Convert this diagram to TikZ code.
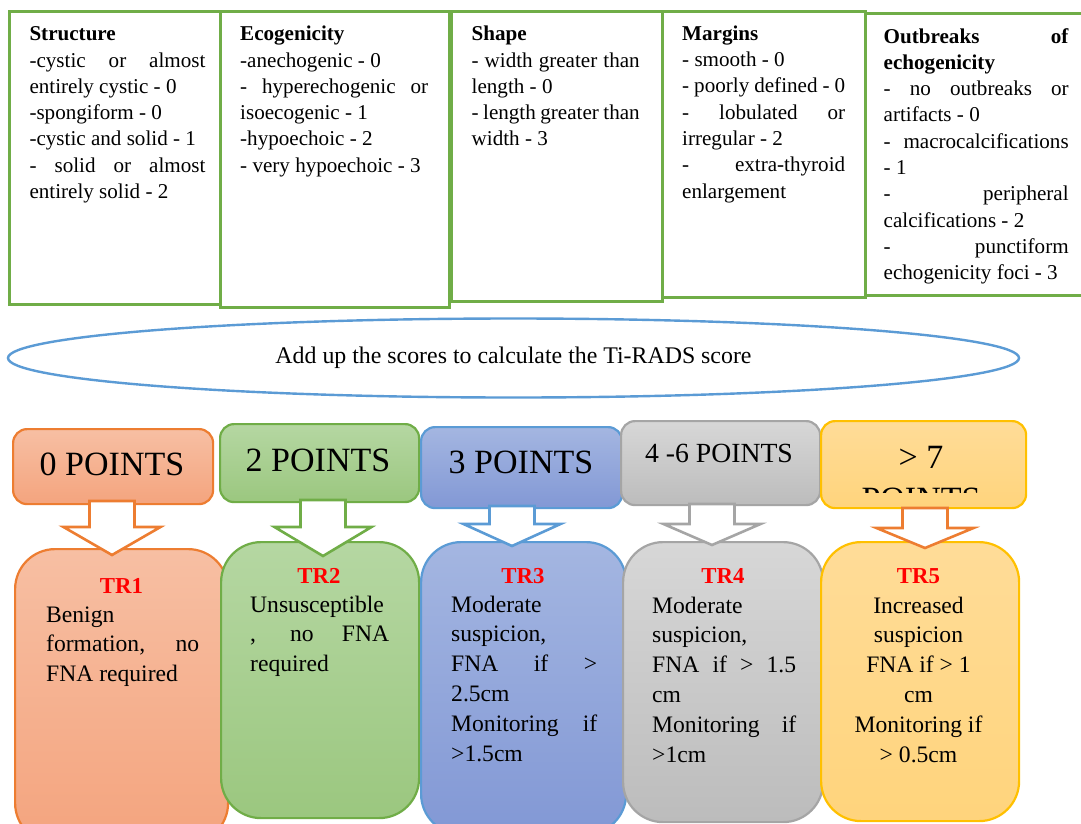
\documentclass[tikz,border=0pt]{standalone}
\usepackage{fontspec}
\setmainfont{Liberation Serif}
\usetikzlibrary{calc}
\hbadness=10000
\definecolor{grn}{HTML}{70AD47}
\definecolor{org}{HTML}{ED7D31}
\definecolor{blu}{HTML}{5B9BD5}
\definecolor{gry}{HTML}{A5A5A5}
\definecolor{yel}{HTML}{FFC000}
\definecolor{orgT}{HTML}{F7BFA3}
\definecolor{orgB}{HTML}{F4A47E}
\definecolor{grnT}{HTML}{B5D7A2}
\definecolor{grnB}{HTML}{9BC77F}
\definecolor{bluT}{HTML}{A4B6E1}
\definecolor{bluB}{HTML}{8298D5}
\definecolor{gryT}{HTML}{D7D7D7}
\definecolor{gryB}{HTML}{BCBCBC}
\definecolor{yelT}{HTML}{FFDC98}
\definecolor{yelB}{HTML}{FFD47C}
\definecolor{trred}{HTML}{FF0000}
\newcommand\topfont{\fontsize{21.1}{26.3}\selectfont}
\newcommand\bodyfont{\fontsize{23.6}{29.8}\selectfont}
\newcommand\jl[1]{\makebox[\linewidth][s]{#1}}
\newcommand\blockarrow[4]{%
  \draw[arrowbox,draw=#1] let \p1=(#2), \p2=(#3) in
    (\x1-22.5pt,\y1) -- (\x1-22.5pt,\y2+#4pt) -- (\x1-48.5pt,\y2+#4pt) -- (\p2)
    -- (\x1+48.5pt,\y2+#4pt) -- (\x1+22.5pt,\y2+#4pt) -- (\x1+22.5pt,\y1) -- cycle;}
\begin{document}
\begin{tikzpicture}[x=1pt,y=-1pt,
  tbox/.style={draw=grn,line width=2.6pt,fill=white,rectangle,inner sep=0pt,anchor=north west},
  pbox/.style={rectangle,rounded corners=14pt,line width=2.2pt,inner sep=0pt,anchor=north west},
  trbox/.style={rectangle,rounded corners=40pt,line width=2.2pt,inner sep=0pt,anchor=north west},
  arrowbox/.style={line width=2.6pt,fill=white,line join=miter},
  toptext/.style={anchor=base west,inner sep=0pt,font=\topfont},
  bodytext/.style={anchor=base west,inner sep=0pt,font=\bodyfont},
  trlabel/.style={anchor=base,inner sep=0pt,text=trred,font=\fontsize{22.8}{26}\selectfont\bfseries},
  ptlabel/.style={anchor=base,inner sep=0pt,font=\fontsize{34}{42}\selectfont},
]
\useasboundingbox (0,0) rectangle (1081,823);
\fill[white] (0,0) rectangle (1081,823);
\clip (0,0) rectangle (1081,823);

% ---- criteria boxes
\node[tbox,minimum width=214pt,minimum height=293pt] (s1) at (8,10) {};
\node[tbox,minimum width=229pt,minimum height=296pt] (s2) at (219,10) {};
\node[tbox,minimum width=211pt,minimum height=290pt] (s3) at (450,10) {};
\node[tbox,minimum width=203pt,minimum height=286pt] (s4) at (661,10) {};
\node[tbox,minimum width=230pt,minimum height=282pt] (s5) at (864,12) {};

\node[toptext] (s1t) at (29.3,40.7) {\parbox[t]{176pt}{\topfont
\textbf{Structure}\\
\jl{-cystic or almost}\\
entirely cystic - 0\\
-spongiform - 0\\
-cystic and solid - 1\\
\jl{- solid or almost}\\
entirely solid - 2}};
\node[toptext] (s2t) at (240,40.7) {\parbox[t]{188pt}{\topfont
\textbf{Ecogenicity}\\
-anechogenic - 0\\
\jl{- hyperechogenic or}\\
isoecogenic - 1\\
-hypoechoic - 2\\
- very hypoechoic - 3}};
\node[toptext] (s3t) at (471.5,40.7) {\parbox[t]{168pt}{\topfont
\textbf{Shape}\\
\jl{- width greater than}\\
length - 0\\
\jl{- length greater than}\\
width - 3}};
\node[toptext] (s4t) at (682,40.3) {\parbox[t]{163pt}{\topfont
\textbf{Margins}\\
- smooth - 0\\
\jl{- poorly defined - 0}\\
\jl{- lobulated or}\\
irregular - 2\\
\jl{- extra-thyroid}\\
enlargement}};
\node[toptext] (s5t) at (883.5,43) {\parbox[t]{185pt}{\topfont
\jl{\textbf{Outbreaks of}}\\
\textbf{echogenicity}\\
\jl{- no outbreaks or}\\
artifacts - 0\\
\jl{- macrocalcifications}\\
- 1\\
\jl{- peripheral}\\
calcifications - 2\\
\jl{- punctiform}\\
echogenicity foci - 3}};

% ---- ellipse
\draw[blu,line width=2.4pt,fill=white] (513.5,358) ellipse [x radius=505.5,y radius=39.5];
\node[anchor=base,inner sep=0pt,font=\fontsize{23.85}{28}\selectfont] (sum) at (513.5,363)
  {Add up the scores to calculate the Ti-RADS score};

% ---- point boxes
\node[pbox,draw=org,top color=orgT,bottom color=orgB,minimum width=200pt,minimum height=75pt] (p0) at (12,428) {};
\node[pbox,draw=grn,top color=grnT,bottom color=grnB,minimum width=199pt,minimum height=78pt] (p2) at (219,423) {};
\node[pbox,draw=blu,top color=bluT,bottom color=bluB,minimum width=201pt,minimum height=81pt] (p3) at (420,426) {};
\node[pbox,draw=gry,top color=gryT,bottom color=gryB,minimum width=199pt,minimum height=84pt] (p4) at (620,420) {};
\node[pbox,draw=yel,top color=yelT,bottom color=yelB,minimum width=205pt,minimum height=87pt] (p5) at (820,420) {};

\node[ptlabel] (l0) at (112,475) {0 POINTS};
\node[ptlabel] (l2) at (318,471) {2 POINTS};
\node[ptlabel] (l3) at (521,473) {3 POINTS};
\node[ptlabel,font=\fontsize{27.7}{33}\selectfont] (l4) at (719,462) {4 -6 POINTS};
\node[ptlabel] (l5) at (921,468) {> 7};
\begin{scope}
  \clip (820,420) rectangle (1025,492);
  \node[ptlabel] (l5b) at (921,510) {POINTS};
\end{scope}

% ---- TR boxes
\node[trbox,draw=org,top color=orgT,bottom color=orgB,minimum width=213pt,minimum height=294pt] (r1) at (14,548) {};
\node[trbox,draw=grn,top color=grnT,bottom color=grnB,minimum width=198pt,minimum height=276pt] (r2) at (220,541) {};
\node[trbox,draw=blu,top color=bluT,bottom color=bluB,minimum width=205pt,minimum height=292pt] (r3) at (420,541) {};
\node[trbox,draw=gry,top color=gryT,bottom color=gryB,minimum width=200pt,minimum height=280pt] (r4) at (622,541) {};
\node[trbox,draw=yel,top color=yelT,bottom color=yelB,minimum width=198pt,minimum height=279pt] (r5) at (820,541) {};

% ---- block arrows
\coordinate (a1s) at (112,501); \coordinate (a1e) at (112,555);
\coordinate (a2s) at (323,500); \coordinate (a2e) at (323,556);
\coordinate (a3s) at (512,506); \coordinate (a3e) at (512,546);
\coordinate (a4s) at (712,504); \coordinate (a4e) at (712,545);
\coordinate (a5s) at (925,508); \coordinate (a5e) at (925,548);
\blockarrow{org}{a1s}{a1e}{28}
\blockarrow{grn}{a2s}{a2e}{29}
\blockarrow{blu}{a3s}{a3e}{22}
\blockarrow{gry}{a4s}{a4e}{21}
\blockarrow{org}{a5s}{a5e}{20}

% ---- TR texts
\node[trlabel] (tr1) at (121.5,593) {TR1};
\node[trlabel] (tr2) at (319,583) {TR2};
\node[trlabel] (tr3) at (523,583) {TR3};
\node[trlabel] (tr4) at (723,583) {TR4};
\node[trlabel] (tr5) at (918.5,583) {TR5};

\node[bodytext] (b1) at (46,622) {\parbox[t]{153pt}{\bodyfont
Benign\\
\jl{formation, no}\\
FNA required}};
\node[bodytext] (b2) at (250,612) {\parbox[t]{139pt}{\bodyfont
Unsusceptible\\
\jl{, no FNA}\\
required}};
\node[bodytext] (b3) at (451,612) {\parbox[t]{146pt}{\bodyfont
Moderate\\
suspicion,\\
\jl{FNA if >}\\
2.5cm\\
\jl{Monitoring if}\\
>1.5cm}};
\node[bodytext] (b4) at (652,613) {\parbox[t]{144pt}{\bodyfont
Moderate\\
suspicion,\\
\jl{FNA if > 1.5}\\
cm\\
\jl{Monitoring if}\\
>1cm}};
\node[bodytext,anchor=base] (b5) at (918.5,613) {\parbox[t]{180pt}{\bodyfont\centering
Increased\\
suspicion\\
FNA if > 1\\
cm\\
Monitoring if\\
> 0.5cm}};
\end{tikzpicture}
\end{document}
